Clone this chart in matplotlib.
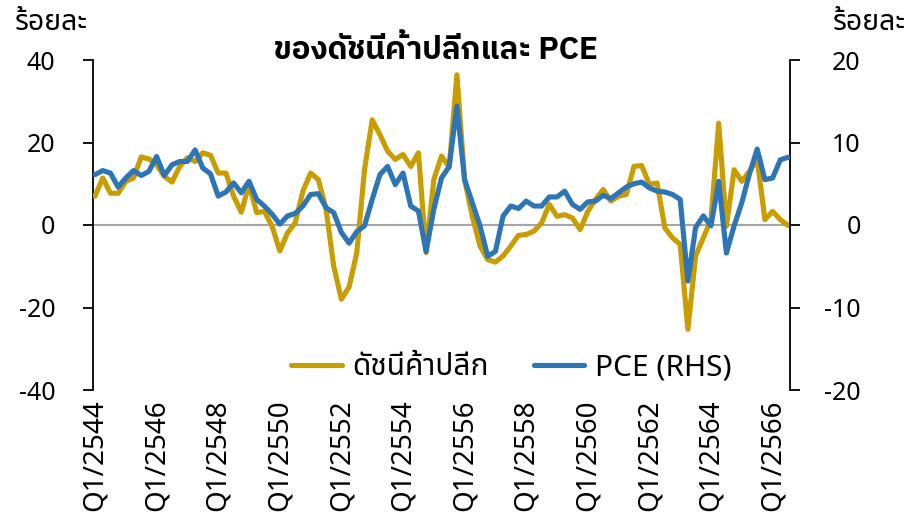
import matplotlib
matplotlib.use("Agg")
import matplotlib.pyplot as plt

plt.rcParams["font.family"] = ["Noto Sans Thai", "Sarabun", "DejaVu Sans"]
plt.rcParams["axes.unicode_minus"] = False

# ข้อมูล (อ่านจากกราฟ) : รายไตรมาส Q1/2544 - Q3/2566
retail = [7.0, 11.4, 7.7, 7.7, 10.6, 11.4, 16.5, 16.0, 14.6, 11.8,
          10.4, 14.2, 16.3, 15.4, 17.5, 16.9, 12.6, 12.6, 7.0, 3.1,
          9.8, 3.0, 3.3, -0.3, -6.3, -1.9, 0.5, 8.2, 12.6, 11.0,
          4.0, -10.0, -18.0, -15.0, -6.7, 13.4, 25.5, 21.9, 17.9, 15.9,
          17.1, 14.2, 17.5, -6.7, 11.0, 16.7, 14.0, 36.4, 11.0, 2.1,
          -5.1, -8.4, -9.0, -7.5, -5.1, -2.5, -2.3, -1.5, 0.5, 5.0,
          2.1, 2.5, 1.7, -1.1, 3.3, 6.2, 8.6, 5.8, 7.0, 7.4,
          14.2, 14.4, 9.8, 10.2, -0.7, -3.1, -4.7, -25.3, -7.5, -3.1,
          1.3, 24.7, -0.3, 13.4, 10.6, 13.0, 15.9, 1.3, 3.3, 1.3,
          -0.1]
pce = [6.1, 6.6, 6.3, 4.6, 5.7, 6.6, 6.0, 6.5, 8.3, 6.0,
       7.3, 7.7, 7.7, 9.1, 6.9, 6.2, 3.5, 4.0, 5.1, 3.9,
       5.3, 3.1, 2.3, 1.3, 0.1, 1.1, 1.4, 2.3, 3.7, 3.8,
       2.1, 1.5, -0.9, -2.2, -0.8, -0.1, 3.1, 6.1, 7.1, 4.9,
       6.3, 2.3, 1.7, -3.2, 1.9, 5.7, 7.1, 14.4, 5.5, 2.7,
       -0.1, -3.8, -3.2, 1.1, 2.3, 2.0, 2.9, 2.3, 2.3, 3.4,
       3.4, 4.1, 2.5, 1.9, 2.8, 2.9, 3.6, 3.2, 3.9, 4.6,
       5.0, 5.2, 4.5, 4.1, 4.0, 3.7, 3.1, -6.8, -0.3, 1.1,
       -0.1, 5.3, -3.4, -0.1, 2.7, 6.2, 9.2, 5.5, 5.7, 7.9,
       8.2]
years = list(range(2544, 2567, 2))
tick_labels = ["Q1/%d" % y for y in years]
tick_pos = [(y - 2544) * 4 for y in years]

gold = "#C99C00"
blue = "#2E75B6"

fig = plt.figure(figsize=(9.09, 5.25), dpi=100)
ax = fig.add_axes([93 / 909, 1 - 390 / 525, 697 / 909, 330 / 525])
ax2 = ax.twinx()

x = list(range(len(retail)))
ax.axhline(0, color="#A6A6A6", lw=1.5, zorder=1)
l1, = ax.plot(x, retail, color=gold, lw=3.7, solid_joinstyle="round",
              solid_capstyle="round", zorder=3)
l2, = ax2.plot(x, pce, color=blue, lw=3.7, solid_joinstyle="round",
               solid_capstyle="round", zorder=3)

ax.set_xlim(-0.26, 90.26)
ax.set_ylim(-40, 40)
ax2.set_ylim(-20, 20)
ax.set_yticks([-40, -20, 0, 20, 40])
ax2.set_yticks([-20, -10, 0, 10, 20])
ax.set_xticks(tick_pos)
ax.set_xticklabels(tick_labels, rotation=90, fontsize=20)

for a in (ax, ax2):
    for s in ("top", "bottom"):
        a.spines[s].set_visible(False)
ax.spines["right"].set_visible(False)
ax2.spines["left"].set_visible(False)
ax.spines["left"].set_linewidth(1.3)
ax2.spines["right"].set_linewidth(1.3)

ax.tick_params(axis="x", length=0, pad=7)
ax.tick_params(axis="y", length=7, width=1.3, pad=20, labelsize=18)
ax2.tick_params(axis="y", length=7, width=1.3, pad=44, labelsize=18)
for t in ax2.get_yticklabels():
    t.set_horizontalalignment("right")

fig.text(15 / 909, 1 - 23 / 525, "ร้อยละ", fontsize=20.5, va="center", ha="left")
fig.text(833 / 909, 1 - 23 / 525, "ร้อยละ", fontsize=20.5, va="center", ha="left")
fig.text(436 / 909, 1 - 50 / 525, "ของดัชนีค้าปลีกและ PCE", fontsize=22.5,
         fontweight="bold", va="center", ha="center",
         family=["IBM Plex Sans Thai", "Kanit", "Prompt", "Noto Sans Thai", "DejaVu Sans"])

ax2.legend([l1, l2], ["ดัชนีค้าปลีก", "PCE (RHS)"], loc="center",
           bbox_to_anchor=(0.6, 0.067), ncol=2, frameon=False,
           fontsize=21.5, handlelength=1.7, columnspacing=1.5, handletextpad=0.35)

fig.savefig("out.png", dpi=100)
